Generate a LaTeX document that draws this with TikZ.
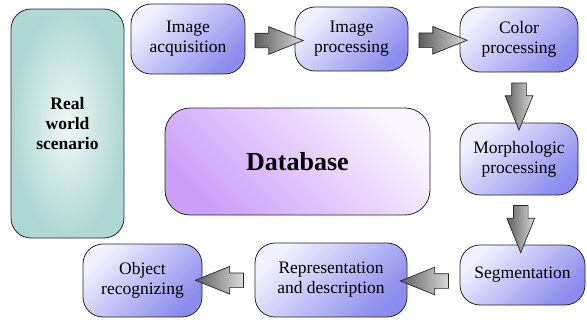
\documentclass[tikz,border=0pt]{standalone}
\usepackage{fontspec}
\setmainfont{Liberation Serif}
\usetikzlibrary{shapes.arrows,calc}
\definecolor{procA}{HTML}{F2F2FF}
\definecolor{procB}{HTML}{8C8CEE}
\definecolor{realIn}{HTML}{F0F8F6}
\definecolor{realOut}{HTML}{AED8D3}
\definecolor{dbA}{HTML}{CBA0F8}
\definecolor{dbB}{HTML}{FAF5FF}
\definecolor{arrD}{HTML}{5E5E5E}
\definecolor{arrL}{HTML}{DADADA}
\begin{document}
\begin{tikzpicture}[x=1pt,y=-1pt,
  box/.style={draw=black!85, line width=0.8pt, rounded corners=20pt, align=center,
    inner sep=2pt, font=\fontsize{17.5}{20}\selectfont},
  proc/.style={box, top color=procA, bottom color=procB, shading angle=45},
  barrow/.style={single arrow, draw=black!85, line width=0.7pt, minimum width=27pt,
    single arrow head extend=6.5pt, inner xsep=0pt, inner ysep=7pt, single arrow tip angle=44,
    left color=arrD, right color=arrL, minimum height=48pt}]
\useasboundingbox (0,0) rectangle (587,324);

\node[box, inner color=realIn, outer color=realOut, minimum width=113pt, minimum height=229pt,
  font=\bfseries\fontsize{17.5}{20}\selectfont] (real) at (67.5,123.5) {Real\\world\\scenario};
\node[box, rounded corners=25pt, top color=dbB, bottom color=dbA, shading angle=-45,
  minimum width=265pt, minimum height=107pt, font=\bfseries\fontsize{26}{30}\selectfont]
  (db) at (297.5,161.5) {Database};

\node[proc, minimum width=114pt, minimum height=70pt] (acq) at (188,39) {Image\\acquisition};
\node[proc, minimum width=113pt, minimum height=64pt] (proc) at (351.5,39) {Image\\processing};
\node[proc, minimum width=118pt, minimum height=65pt] (color) at (519,39.5) {Color\\processing};
\node[proc, minimum width=118pt, minimum height=72pt] (morph) at (519,159) {Morphologic\\processing};
\node[proc, minimum width=125pt, minimum height=60pt] (seg) at (522.5,275) {Segmentation};
\node[proc, minimum width=152pt, minimum height=74pt] (rep) at (331,280) {Representation\\and description};
\node[proc, minimum width=119pt, minimum height=73pt] (obj) at (142.5,280.5) {Object\\recognizing};

\node[barrow, yshift=-1.5pt] (a1) at ($(acq.east)!0.5!(proc.west)$) {};
\node[barrow, yshift=-1pt] (a2) at ($(proc.east)!0.5!(color.west)$) {};
\node[barrow, rotate=-90, minimum height=47pt] (a3) at ($(color.south)!0.5!(morph.north)$) {};
\node[barrow, rotate=-90, minimum height=47pt] (a4) at ($(morph.south)!0.5!(seg.north)$) {};
\node[barrow, yshift=-3.5pt, rotate=180] (a5) at ($(seg.west)!0.5!(rep.east)$) {};
\node[barrow, rotate=180] (a6) at ($(rep.west)!0.5!(obj.east)$) {};
\end{tikzpicture}
\end{document}
